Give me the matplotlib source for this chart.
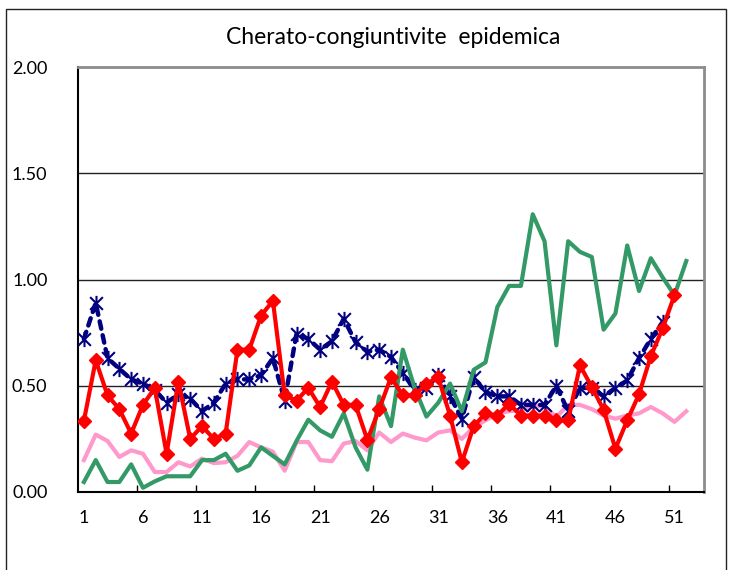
import numpy as np
import matplotlib
matplotlib.use("Agg")
import matplotlib.pyplot as plt
from matplotlib.patches import Rectangle
from matplotlib.path import Path
from matplotlib.ticker import FixedLocator, FuncFormatter

plt.rcParams["font.family"] = ["Lato", "DejaVu Sans"]

TITLE = "Cherato-congiuntivite  epidemica"
N_CAT = 53   # week slots on the category axis (last one is empty)

# weekly incidence
navy = [0.72, 0.89, 0.63, 0.58, 0.53, 0.51, 0.48, 0.42, 0.46, 0.44,
        0.38, 0.42, 0.51, 0.53, 0.53, 0.55, 0.63, 0.43, 0.745, 0.72,
        0.67, 0.71, 0.815, 0.705, 0.66, 0.67, 0.635, 0.56, 0.48, 0.49,
        0.55, 0.45, 0.345, 0.54, 0.47, 0.45, 0.45, 0.41, 0.41, 0.41,
        0.50, 0.38, 0.49, 0.49, 0.45, 0.49, 0.525, 0.63, 0.72, 0.80]
green = [0.047, 0.15, 0.047, 0.047, 0.13, 0.02, 0.05, 0.074, 0.074, 0.074,
         0.15, 0.15, 0.18, 0.10, 0.125, 0.21, 0.17, 0.13, 0.24, 0.34,
         0.29, 0.26, 0.37, 0.21, 0.105, 0.45, 0.31, 0.67, 0.49, 0.355,
         0.42, 0.51, 0.38, 0.575, 0.61, 0.87, 0.97, 0.97, 1.307, 1.18,
         0.69, 1.18, 1.13, 1.106, 0.764, 0.84, 1.16, 0.946, 1.10, 1.01,
         0.926, 1.087]
pink = [0.15, 0.27, 0.24, 0.165, 0.196, 0.18, 0.094, 0.094, 0.14, 0.12,
        0.157, 0.136, 0.14, 0.17, 0.235, 0.21, 0.19, 0.10, 0.235, 0.235,
        0.15, 0.145, 0.228, 0.24, 0.196, 0.28, 0.235, 0.275, 0.256, 0.243,
        0.28, 0.29, 0.25, 0.305, 0.337, 0.37, 0.38, 0.385, 0.41, 0.40,
        0.353, 0.41, 0.41, 0.39, 0.36, 0.345, 0.36, 0.37, 0.40, 0.37,
        0.33, 0.38]
red = [0.335, 0.62, 0.455, 0.39, 0.275, 0.41, 0.49, 0.18, 0.52, 0.25,
       0.31, 0.25, 0.275, 0.67, 0.67, 0.83, 0.90, 0.455, 0.43, 0.49,
       0.40, 0.52, 0.41, 0.41, 0.245, 0.39, 0.54, 0.455, 0.455, 0.51,
       0.54, 0.36, 0.14, 0.31, 0.37, 0.36, 0.415, 0.36, 0.36, 0.36,
       0.337, 0.337, 0.596, 0.494, 0.387, 0.204, 0.337, 0.46, 0.64, 0.77,
       0.926]

y_ticks = [0.0, 0.5, 1.0, 1.5, 2.0]
x_labels = list(range(1, N_CAT, 5))   # 1, 6, ..., 51


def weeks(vals):
    return np.arange(1, len(vals) + 1)


# Excel-style asterisk: an X plus a vertical bar
STAR = Path([(-1, -1), (1, 1), (-1, 1), (1, -1), (0, -1.2), (0, 1.2)],
            [Path.MOVETO, Path.LINETO] * 3)

fig = plt.figure(figsize=(7.34, 5.70), dpi=100)
ax = fig.add_axes([78 / 734, 78 / 570, 626 / 734, 425 / 570])

ax.plot(weeks(pink), pink, color="#FF99CC", lw=3.0, zorder=3)
ax.plot(weeks(navy), navy, color="#000080", lw=3.2, ls=(0, (1.7, 1.5)),
        dash_capstyle="round", marker=STAR, ms=11, mew=1.5, zorder=4)
ax.plot(weeks(green), green, color="#339966", lw=3.0, zorder=5)
ax.plot(weeks(red), red, color="#FF0000", lw=3.0, marker="D", ms=7,
        zorder=6)

ax.set_xlim(0.5, N_CAT + 0.5)
ax.set_ylim(0, 2)

# category axis: marks between categories, labels on every fifth week
ax.xaxis.set_major_locator(FixedLocator(np.arange(5.5, N_CAT, 5)))
ax.xaxis.set_minor_locator(FixedLocator(x_labels))
ax.xaxis.set_major_formatter(FuncFormatter(lambda v, p: ""))
ax.xaxis.set_minor_formatter(FuncFormatter(lambda v, p: f"{int(round(v))}"))
ax.tick_params(axis="x", which="major", direction="in", length=5, width=1)
ax.tick_params(axis="x", which="minor", length=0, pad=13, labelsize=13)

ax.set_yticks(y_ticks)
ax.yaxis.set_major_formatter(FuncFormatter(lambda v, p: f"{v:.2f}"))
ax.tick_params(axis="y", length=0, pad=22, labelsize=13)

for v in y_ticks[1:-1]:
    ax.axhline(v, color="#222222", lw=1, zorder=1)

for side in ("left", "bottom"):
    ax.spines[side].set_color("black")
    ax.spines[side].set_linewidth(1.5)
for side in ("top", "right"):
    ax.spines[side].set_color("#8c8c8c")
    ax.spines[side].set_linewidth(2)

fig.text(393 / 734, 1 - 38 / 570, TITLE, ha="center", va="center",
         fontsize=16.5)

# outer chart frame (bottom edge is cut off in the reference)
fig.patches.append(Rectangle((5.5 / 734, -0.1), 720 / 734, 1.1 - 9.5 / 570,
                             transform=fig.transFigure, fill=False,
                             edgecolor="#222222", lw=1))

fig.savefig("out.png", dpi=100)
